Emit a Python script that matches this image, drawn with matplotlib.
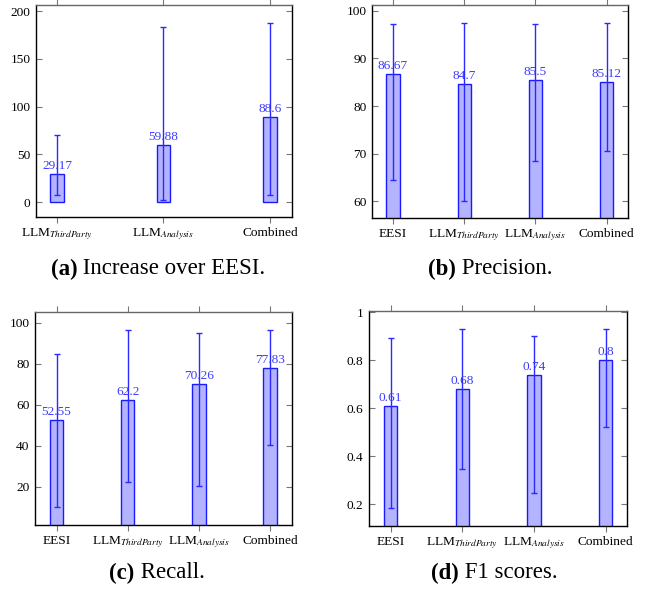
import matplotlib
matplotlib.use("Agg")
import matplotlib.pyplot as plt
import numpy as np

plt.rcParams['font.family'] = ['Liberation Serif', 'DejaVu Serif']
plt.rcParams['mathtext.fontset'] = 'stix'

# ---- data ----
cats_a = [r"LLM$_{ThirdParty}$", r"LLM$_{Analysis}$", "Combined"]
vals_a = [29.17, 59.88, 88.6]
lo_a = [7.0, 2.1, 7.0]
hi_a = [69.7, 182.9, 187.8]

cats4 = ["EESI", r"LLM$_{ThirdParty}$", r"LLM$_{Analysis}$", "Combined"]
vals_b = [86.67, 84.7, 85.5, 85.12]
lo_b = [64.55, 60.1, 68.46, 70.56]
hi_b = [97.2, 97.4, 97.2, 97.4]

vals_c = [52.55, 62.2, 70.26, 77.83]
lo_c = [10.3, 22.1, 20.3, 40.4]
hi_c = [84.6, 96.6, 95.1, 96.6]

vals_d = [0.61, 0.68, 0.74, 0.8]
lo_d = [0.185, 0.345, 0.246, 0.521]
hi_d = [0.892, 0.929, 0.903, 0.932]

captions = [("(a)", " Increase over EESI."), ("(b)", " Precision."),
            ("(c)", " Recall."), ("(d)", " F1 scores.")]

W, H = 652, 598
fig = plt.figure(figsize=(W / 100, H / 100), dpi=100)

FILL = '#b3b3ff'
EDGE = '#1a1aff'
ERR = '#2a2aff'
LBL = '#3c3cff'
FS = 9.6
CFS = 16.5


def ax_at(l, t, r, b):
    return fig.add_axes([l / W, 1 - b / H, (r - l) / W, (b - t) / H])


def draw(ax, cats, vals, lo, hi, ylim, yticks, ytl, xlim, width):
    x = np.arange(len(cats))
    ax.bar(x, vals, width=width, color=FILL, edgecolor=EDGE, linewidth=1.0, zorder=2)
    v = np.array(vals)
    yerr = [v - np.array(lo), np.array(hi) - v]
    ax.errorbar(x, vals, yerr=yerr, fmt='none', ecolor=ERR, elinewidth=1.0,
                capsize=2.3, capthick=1.0, zorder=3)
    for xi, vi in zip(x, vals):
        ax.annotate(f"{vi:g}", (xi, vi), xytext=(0, 1.5), textcoords='offset points',
                    ha='center', va='bottom', color=LBL, fontsize=FS, zorder=4)
    ax.set_xlim(*xlim)
    ax.set_ylim(*ylim)
    ax.set_xticks(x)
    ax.set_xticklabels(cats, fontsize=FS)
    ax.set_yticks(yticks)
    ax.set_yticklabels(ytl, fontsize=FS)
    ax.tick_params(axis='y', direction='in', length=4, color='#777777',
                   left=True, right=True, pad=4)
    ax.tick_params(axis='x', direction='out', length=4, color='#777777',
                   top=True, bottom=True, pad=3)
    for s in ['left', 'bottom', 'right']:
        ax.spines[s].set_color('black')
        ax.spines[s].set_linewidth(1.0)
    ax.spines['top'].set_color('#666666')
    ax.spines['top'].set_linewidth(1.0)


ax1 = ax_at(36, 5, 292, 217)
draw(ax1, cats_a, vals_a, lo_a, hi_a, (-15.7, 206.3), [0, 50, 100, 150, 200],
     ["0", "50", "100", "150", "200"], (-0.197, 2.207), 0.125)

ax2 = ax_at(372, 5, 628, 218)
draw(ax2, cats4, vals_b, lo_b, hi_b, (56.5, 101.2), [60, 70, 80, 90, 100],
     ["60", "70", "80", "90", "100"], (-0.295, 3.3), 0.187)

ax3 = ax_at(35, 312, 292, 525)
draw(ax3, cats4, vals_c, lo_c, hi_c, (1.34, 105.2), [20, 40, 60, 80, 100],
     ["20", "40", "60", "80", "100"], (-0.305, 3.31), 0.187)

ax4 = ax_at(369, 311, 627, 526)
draw(ax4, cats4, vals_d, lo_d, hi_d, (0.109, 1.006), [0.2, 0.4, 0.6, 0.8, 1.0],
     ["0.2", "0.4", "0.6", "0.8", "1"], (-0.303, 3.3), 0.187)

cap_pos = [(158, 269), (490, 269), (157, 573), (494, 573)]
for (bold, rest), (cx, cy) in zip(captions, cap_pos):
    tb = fig.text(0, 0, bold, fontsize=CFS, fontweight='bold', va='center')
    tr = fig.text(0, 0, rest, fontsize=CFS, va='center')
    fig.canvas.draw()
    wb = tb.get_window_extent().width
    wr = tr.get_window_extent().width
    x0 = cx - (wb + wr) / 2
    tb.set_position((x0 / W, 1 - cy / H))
    tr.set_position(((x0 + wb) / W, 1 - cy / H))

fig.savefig("out.png", dpi=100)
